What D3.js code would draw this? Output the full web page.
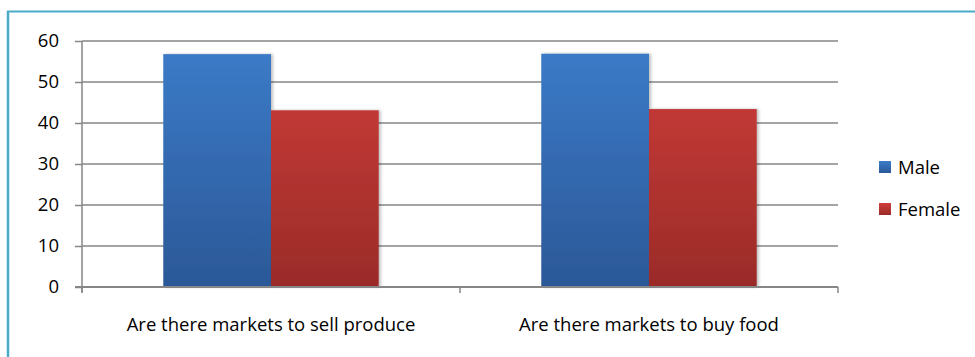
<!DOCTYPE html>
<html>
<head>
<meta charset="utf-8">
<script src="https://cdn.jsdelivr.net/npm/d3@7"></script>
<style>
  html, body { margin: 0; padding: 0; background: #fff; }
  svg { display: block; font-family: "Open Sans", Lato, sans-serif; }
</style>
</head>
<body>
<svg id="chart" width="975" height="357"></svg>
<script>
// Survey answers by gender (percent)
const categories = ["Are there markets to sell produce", "Are there markets to buy food"];
const seriesNames = ["Male", "Female"];
const maleValues = [56.8, 56.9];
const femaleValues = [43.1, 43.4];
const yTicks = [0, 10, 20, 30, 40, 50, 60];

const series = [
  { name: seriesNames[0], values: maleValues, top: "#3c7cca", bottom: "#2b5897", key: "m" },
  { name: seriesNames[1], values: femaleValues, top: "#d03e3a", bottom: "#9a2b28", key: "f" }
];

const FONT = 18.5;
const svg = d3.select("#chart");
const W = 975, H = 357;
const plot = { left: 82, right: 838, top: 41, bottom: 287 };

const defs = svg.append("defs");
series.forEach(s => {
  const g = defs.append("linearGradient")
    .attr("id", "grad-" + s.key)
    .attr("gradientUnits", "userSpaceOnUse")
    .attr("x1", 0).attr("x2", 0)
    .attr("y1", plot.top).attr("y2", plot.bottom);
  g.append("stop").attr("offset", "0%").attr("stop-color", s.top);
  g.append("stop").attr("offset", "100%").attr("stop-color", s.bottom);
  const lg = defs.append("linearGradient").attr("id", "lg-" + s.key)
    .attr("x1", 0).attr("x2", 0).attr("y1", 0).attr("y2", 1);
  lg.append("stop").attr("offset", "0%").attr("stop-color", s.top);
  lg.append("stop").attr("offset", "100%").attr("stop-color", s.bottom);
});
const shadow = defs.append("filter").attr("id", "shadow")
  .attr("x", "-10%").attr("y", "-10%").attr("width", "130%").attr("height", "120%");
shadow.append("feDropShadow").attr("dx", 2).attr("dy", 0).attr("stdDeviation", 1.5)
  .attr("flood-color", "#000").attr("flood-opacity", 0.25);

// Frame (top and left edges)
svg.append("line").attr("x1", 7).attr("x2", W).attr("y1", 11.5).attr("y2", 11.5)
  .attr("stroke", "#4aacc6").attr("stroke-width", 2);
svg.append("line").attr("x1", 8).attr("x2", 8).attr("y1", 11).attr("y2", H)
  .attr("stroke", "#4aacc6").attr("stroke-width", 2.5);

const x0 = d3.scaleBand().domain(categories).range([plot.left, plot.right]).paddingInner(0).paddingOuter(0);
const innerPad = 0.215;
const x1 = d3.scaleBand().domain(seriesNames)
  .range([x0.bandwidth() * innerPad, x0.bandwidth() * (1 - innerPad)]);
const y = d3.scaleLinear().domain([0, 60]).range([plot.bottom, plot.top]);

// Gridlines and y-axis ticks
const yAxis = d3.axisLeft(y).tickValues(yTicks).tickSize(7).tickPadding(16);
const gy = svg.append("g").attr("transform", `translate(${plot.left},0)`).call(yAxis);
gy.select(".domain").remove();
gy.selectAll(".tick line").attr("stroke", "#868686").attr("stroke-width", 1.5);
gy.selectAll(".tick text").attr("fill", "#000").attr("font-size", FONT)
  .attr("font-family", "'Open Sans', sans-serif");

svg.append("g").selectAll("line").data(yTicks.filter(d => d > 0)).join("line")
  .attr("x1", plot.left).attr("x2", plot.right)
  .attr("y1", d => y(d)).attr("y2", d => y(d))
  .attr("stroke", "#868686").attr("stroke-width", 1.5);

// Bars
const groups = svg.append("g").selectAll("g").data(categories).join("g")
  .attr("transform", d => `translate(${x0(d)},0)`);
series.forEach(s => {
  groups.append("rect")
    .attr("x", x1(s.name))
    .attr("width", x1.bandwidth())
    .attr("y", (d, i) => y(s.values[i]))
    .attr("height", (d, i) => y(0) - y(s.values[i]))
    .attr("fill", `url(#grad-${s.key})`)
    .attr("filter", "url(#shadow)");
});

// Axis lines
svg.append("line").attr("x1", plot.left).attr("x2", plot.left)
  .attr("y1", plot.top).attr("y2", plot.bottom + 5)
  .attr("stroke", "#868686").attr("stroke-width", 1.5);
const xAxis = d3.axisBottom(x0).tickSize(0).tickPadding(0).tickFormat("");
const gx = svg.append("g").attr("transform", `translate(0,${plot.bottom})`).call(xAxis);
gx.select(".domain").attr("stroke", "#868686").attr("stroke-width", 2)
  .attr("d", `M${plot.left - 7},0H${plot.right}`);
gx.selectAll(".tick").remove();
// category separators
const seps = [plot.left, ...categories.map(c => x0(c) + x0.bandwidth())];
svg.append("g").selectAll("line").data(seps).join("line")
  .attr("x1", d => d).attr("x2", d => d)
  .attr("y1", plot.bottom).attr("y2", plot.bottom + 6)
  .attr("stroke", "#868686").attr("stroke-width", 1.5);

// Category labels
svg.append("g").selectAll("text").data(categories).join("text")
  .attr("x", d => x0(d) + x0.bandwidth() / 2)
  .attr("y", 331)
  .attr("text-anchor", "middle")
  .attr("font-size", FONT)
  .attr("fill", "#000")
  .text(d => d);

// Legend
const legend = svg.append("g").attr("transform", "translate(879,161)");
series.forEach((s, i) => {
  const g = legend.append("g").attr("transform", `translate(0,${i * 42})`);
  g.append("rect").attr("width", 12).attr("height", 12).attr("fill", `url(#lg-${s.key})`);
  g.append("text").attr("x", 19).attr("y", 13).attr("font-size", FONT).attr("fill", "#000").text(s.name);
});
</script>
</body>
</html>
